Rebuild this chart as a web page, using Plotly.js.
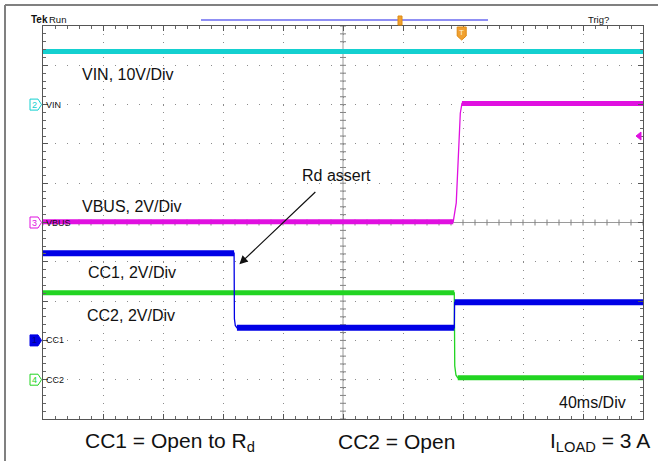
<!DOCTYPE html>
<html><head><meta charset="utf-8">
<script src="https://cdn.plot.ly/plotly-3.0.1.min.js"></script>
<style>html,body{margin:0;padding:0;background:#fff;} #chart{width:658px;height:461px;}</style>
</head><body><div id="chart"></div>
<script>
// Time in ms (40 ms/div, 10 div), amplitude in screen divisions (0 = bottom graticule line, 10 = top)
const vinTime  = [0, 400];
const vinLevel = [9.35, 9.35];

const vbusTime  = [0, 273.5, 275.5, 277.0, 278.2, 279.3, 400];
const vbusLevel = [5.02, 5.02, 5.5, 6.93, 7.78, 8.03, 8.03];

const cc1Time  = [0, 127.4, 127.6, 128.2, 129.3, 274.2, 274.4, 400];
const cc1Level = [4.22, 4.22, 2.55, 2.38, 2.32, 2.32, 2.97, 2.97];

const cc2Time  = [0, 274.2, 274.5, 275.3, 276.5, 400];
const cc2Level = [3.21, 3.21, 1.35, 1.12, 1.05, 1.05];

// channel ground markers: number, label, level (div)
const chNums   = ['2', '3', '1', '4'];
const chLabels = ['VIN', 'VBUS', 'CC1', 'CC2'];
const chGround = [8.0, 5.0, 2.0, 1.0];
const triggerLevel = 7.2;

const labelTexts = ['VIN, 10V/Div', 'VBUS, 2V/Div', 'CC1, 2V/Div', 'CC2, 2V/Div'];
const bottomTexts = ['CC1 = Open to R<sub>d</sub>', 'CC2 = Open', 'I<sub>LOAD</sub> = 3 A'];

const CYAN = '#14d0d0', MAG = '#e010e0', BLUE = '#0000e6', GREEN = '#22d422';
const FONT = 'Liberation Sans, Arial, Helvetica, sans-serif';
const PX = p => (p - 43) / 600;
const PY = p => (419 - p) / 393;

function flatParts(t, v) {
  const x = [], y = [];
  for (let i = 0; i < t.length - 1; i++) {
    if (v[i] === v[i + 1]) { x.push(t[i], t[i + 1], null); y.push(v[i], v[i + 1], null); }
  }
  return {x, y};
}
const channels = [
  {t: vinTime, v: vinLevel, c: CYAN, w: 5},
  {t: vbusTime, v: vbusLevel, c: MAG, w: 5},
  {t: cc2Time, v: cc2Level, c: GREEN, w: 5},
  {t: cc1Time, v: cc1Level, c: BLUE, w: 6}
];
const traces = [];
channels.forEach(ch => {
  traces.push({x: ch.t, y: ch.v, type: 'scatter', mode: 'lines', line: {color: ch.c, width: 1.3}, hoverinfo: 'skip'});
  const f = flatParts(ch.t, ch.v);
  traces.push({x: f.x, y: f.y, type: 'scatter', mode: 'lines', connectgaps: false, line: {color: ch.c, width: ch.w}, hoverinfo: 'skip'});
});

const shapes = [];
// center cross lines with ticks
shapes.push({type: 'line', xref: 'x', yref: 'y', x0: 200, x1: 200, y0: 0, y1: 10, line: {color: '#9a9a9a', width: 1}, layer: 'below'});
shapes.push({type: 'line', xref: 'x', yref: 'y', x0: 0, x1: 400, y0: 5, y1: 5, line: {color: '#9a9a9a', width: 1}, layer: 'below'});
for (let t = 0; t <= 400; t += 8) {
  shapes.push({type: 'line', xref: 'x', yref: 'y', ysizemode: 'pixel', yanchor: 5, x0: t, x1: t, y0: -3, y1: 3, line: {color: '#808080', width: 1}, layer: 'below'});
}
for (let d = 0; d <= 10.001; d += 0.2) {
  shapes.push({type: 'line', xref: 'x', yref: 'y', xsizemode: 'pixel', xanchor: 200, x0: -3, x1: 3, y0: d, y1: d, line: {color: '#808080', width: 1}, layer: 'below'});
}
// outer frame
shapes.push({type: 'line', xref: 'paper', yref: 'paper', x0: PX(5), x1: PX(660), y0: PY(5), y1: PY(5), line: {color: '#808080', width: 2}});
shapes.push({type: 'line', xref: 'paper', yref: 'paper', x0: PX(5), x1: PX(5), y0: PY(5), y1: PY(470), line: {color: '#808080', width: 2}});
// record-length bar at top
shapes.push({type: 'line', xref: 'paper', yref: 'paper', x0: PX(201), x1: PX(488), y0: PY(20), y1: PY(20), line: {color: '#6a6af0', width: 1.5}});
shapes.push({type: 'rect', xref: 'paper', yref: 'paper', x0: PX(398), x1: PX(402), y0: PY(25), y1: PY(16), fillcolor: '#f0a030', line: {color: '#e08a10', width: 1}});
// trigger position marker
shapes.push({type: 'path', xref: 'paper', yref: 'paper', xsizemode: 'pixel', ysizemode: 'pixel', xanchor: PX(461.7), yanchor: PY(27),
  path: 'M-4.5,0 H4.5 V-9 L0,-13 L-4.5,-9 Z', fillcolor: '#f0a030', line: {color: '#e08a10', width: 1}});
// trigger level marker
shapes.push({type: 'path', xref: 'paper', yref: 'y', xsizemode: 'pixel', ysizemode: 'pixel', xanchor: PX(636), yanchor: triggerLevel,
  path: 'M0,0 L5,4 L5,-4 Z', fillcolor: MAG, line: {color: MAG, width: 1}});
// channel markers
const chColors = [CYAN, MAG, BLUE, GREEN];
chNums.forEach((n, i) => {
  shapes.push({type: 'path', xref: 'paper', yref: 'y', xsizemode: 'pixel', ysizemode: 'pixel', xanchor: 0, yanchor: chGround[i],
    path: 'M-13,5.5 H-5 L-1.5,0 L-5,-5.5 H-13 Z', fillcolor: n === '1' ? BLUE : '#ffffff', line: {color: chColors[i], width: 1}});
});

const annotations = [];
const txt = (text, x, y, size, extra) => Object.assign({text, x, y, xref: 'paper', yref: 'paper', xanchor: 'left', yanchor: 'middle', showarrow: false, font: {family: FONT, size, color: '#111'}}, extra || {});
annotations.push(txt('<b>Tek</b>', PX(29), PY(19), 10));
annotations.push(txt('Run', PX(47), PY(19), 9.5));
annotations.push(txt('Trig?', PX(586), PY(19), 9.5));
annotations.push(txt('T', PX(461.7), PY(32), 8, {xanchor: 'center', font: {family: FONT, size: 8, color: '#fff4d8'}}));
const labelPos = [[80, 74], [80, 206], [86, 272], [85, 315]];
labelTexts.forEach((t, i) => annotations.push(txt(t, PX(labelPos[i][0]), PY(labelPos[i][1]), 16)));
annotations.push(txt('Rd assert', PX(300), PY(175), 16));
annotations.push(txt('40ms/Div', PX(557), PY(402), 16));
const bottomX = [83, 336, 548];
bottomTexts.forEach((t, i) => annotations.push(txt(t, PX(bottomX[i]), PY(442), 21)));
chNums.forEach((n, i) => {
  annotations.push({text: n, x: PX(34.5), y: chGround[i], xref: 'paper', yref: 'y', xanchor: 'center', yanchor: 'middle', showarrow: false,
    font: {family: FONT, size: 9, color: n === '1' ? '#000080' : chColors[i]}});
  annotations.push({text: chLabels[i], x: PX(44), y: chGround[i], xref: 'paper', yref: 'y', xanchor: 'left', yanchor: 'middle', showarrow: false,
    font: {family: FONT, size: 9, color: '#111'}});
});
// arrow
annotations.push({text: ' ', x: 130.9, y: 3.94, xref: 'x', yref: 'y', ax: 79, ay: -75, showarrow: true,
  arrowhead: 2, arrowsize: 1.4, arrowwidth: 1.2, arrowcolor: '#111', standoff: 0, startstandoff: 0});

const layout = {
  width: 658, height: 461, autosize: false,
  margin: {l: 43, r: 15, t: 26, b: 42, pad: 0},
  paper_bgcolor: '#ffffff', plot_bgcolor: '#ffffff',
  showlegend: false,
  xaxis: {range: [0, 400], dtick: 40, tick0: 0, showticklabels: false, zeroline: false,
    showgrid: true, gridcolor: '#8c8c8c', gridwidth: 1, griddash: '1px,6.86px',
    ticks: 'inside', ticklen: 5, tickcolor: '#555', showline: true, linecolor: '#555', linewidth: 1, mirror: 'ticks',
    minor: {dtick: 8, tick0: 0, ticks: 'inside', ticklen: 3, tickcolor: '#666', showgrid: false}, fixedrange: true},
  yaxis: {range: [0, 10], dtick: 1, tick0: 0, showticklabels: false, zeroline: false,
    showgrid: true, gridcolor: '#8c8c8c', gridwidth: 1, griddash: '1px,11px',
    ticks: 'inside', ticklen: 5, tickcolor: '#555', showline: true, linecolor: '#555', linewidth: 1, mirror: 'ticks',
    minor: {dtick: 0.2, tick0: 0, ticks: 'inside', ticklen: 3, tickcolor: '#666', showgrid: false}, fixedrange: true},
  shapes, annotations
};
Plotly.newPlot('chart', traces, layout, {staticPlot: true, displayModeBar: false});
</script></body></html>
